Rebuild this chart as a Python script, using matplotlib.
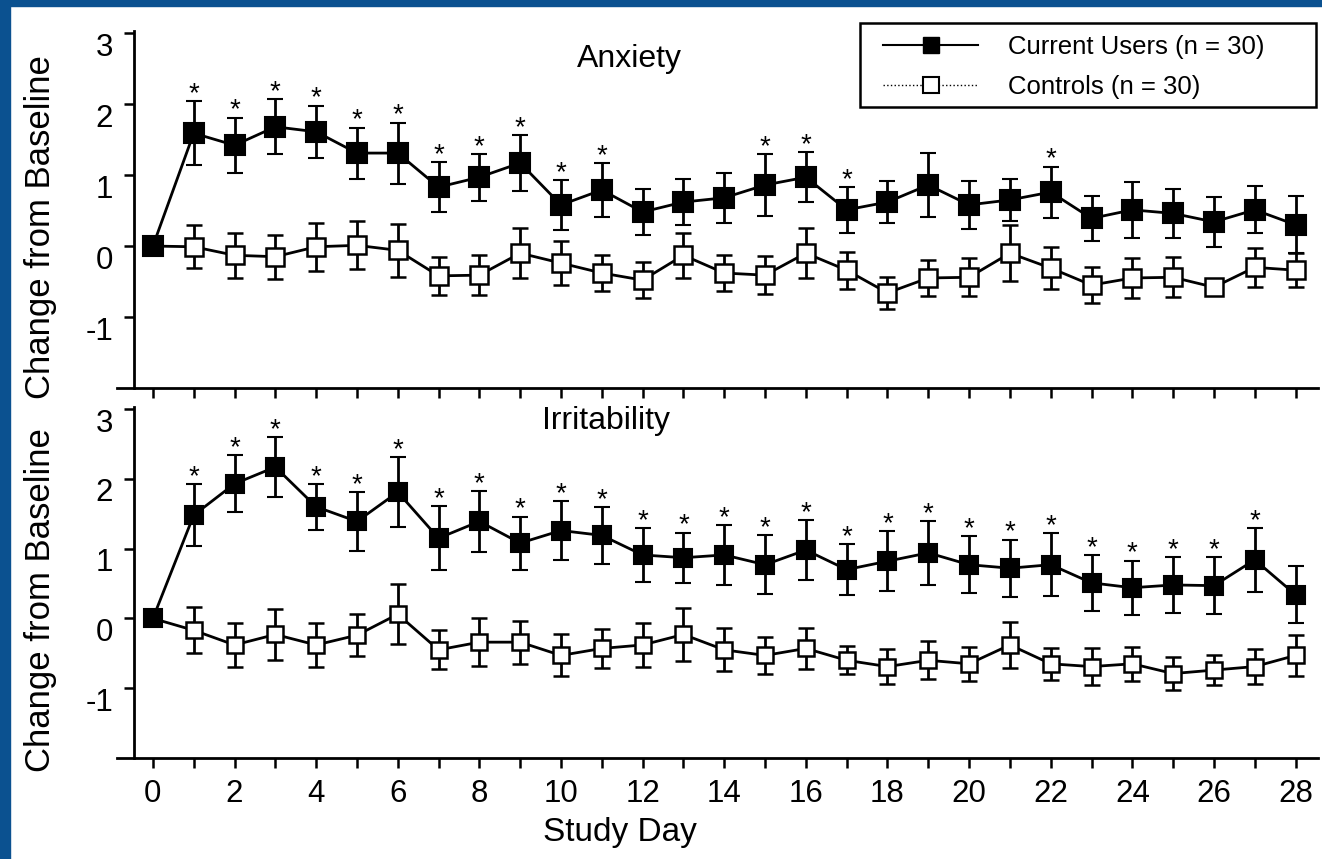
import matplotlib
matplotlib.use("Agg")
import matplotlib.pyplot as plt
from matplotlib.lines import Line2D
from matplotlib.patches import Rectangle
from matplotlib.transforms import ScaledTranslation

plt.rcParams['font.family'] = ['Liberation Sans', 'DejaVu Sans']
plt.rcParams['axes.unicode_minus'] = False

days = list(range(29))

# Anxiety: change from baseline (mean, SE)
anx_users = [0, 1.59, 1.42, 1.68, 1.61, 1.31, 1.31, 0.83, 0.97, 1.17, 0.58, 0.79, 0.48, 0.62, 0.68,
             0.86, 0.97, 0.51, 0.62, 0.86, 0.58, 0.65, 0.76, 0.39, 0.51, 0.46, 0.34, 0.51, 0.30]
anx_users_se = [0, 0.45, 0.39, 0.39, 0.37, 0.36, 0.43, 0.35, 0.33, 0.39, 0.35, 0.38, 0.33, 0.33, 0.35,
                0.44, 0.35, 0.32, 0.30, 0.45, 0.34, 0.30, 0.36, 0.32, 0.39, 0.35, 0.35, 0.33, 0.40]
anx_ctrl = [0, -0.01, -0.13, -0.15, -0.01, 0.01, -0.06, -0.42, -0.41, -0.10, -0.24, -0.38, -0.48, -0.13, -0.38,
            -0.41, -0.10, -0.34, -0.66, -0.45, -0.44, -0.10, -0.31, -0.55, -0.45, -0.44, -0.58, -0.30, -0.34]
anx_ctrl_se = [0, 0.30, 0.32, 0.31, 0.34, 0.34, 0.37, 0.27, 0.28, 0.35, 0.31, 0.26, 0.25, 0.32, 0.25,
               0.27, 0.35, 0.26, 0.23, 0.25, 0.27, 0.39, 0.29, 0.25, 0.28, 0.28, 0.05, 0.27, 0.24]
anx_signif = [1, 2, 3, 4, 5, 6, 7, 8, 9, 10, 11, 15, 16, 17, 22]

# Irritability
irr_users = [0, 1.48, 1.93, 2.17, 1.60, 1.39, 1.81, 1.15, 1.39, 1.08, 1.26, 1.19, 0.91, 0.87, 0.91,
             0.77, 0.98, 0.70, 0.82, 0.94, 0.77, 0.72, 0.77, 0.51, 0.44, 0.48, 0.47, 0.84, 0.34]
irr_users_se = [0, 0.44, 0.41, 0.43, 0.33, 0.42, 0.50, 0.46, 0.44, 0.38, 0.42, 0.41, 0.39, 0.36, 0.43,
                0.42, 0.43, 0.36, 0.43, 0.46, 0.41, 0.41, 0.45, 0.40, 0.39, 0.40, 0.41, 0.46, 0.41]
irr_ctrl = [0, -0.17, -0.38, -0.23, -0.38, -0.24, 0.06, -0.45, -0.34, -0.34, -0.53, -0.43, -0.38, -0.23, -0.45,
            -0.53, -0.43, -0.60, -0.69, -0.60, -0.65, -0.38, -0.65, -0.69, -0.65, -0.79, -0.74, -0.69, -0.53]
irr_ctrl_se = [0, 0.33, 0.32, 0.37, 0.31, 0.30, 0.43, 0.28, 0.34, 0.31, 0.30, 0.28, 0.32, 0.38, 0.31,
               0.27, 0.30, 0.20, 0.25, 0.27, 0.24, 0.33, 0.23, 0.26, 0.24, 0.24, 0.21, 0.25, 0.29]
irr_signif = list(range(1, 28))

W, H = 1322, 859
fig = plt.figure(figsize=(W / 100, H / 100), dpi=100)
fig.patch.set_facecolor('white')

# blue frame of the slide
fig.patches.append(Rectangle((0, 0), 10 / W, 1, transform=fig.transFigure, color='#0b5190', zorder=0))
fig.patches.append(Rectangle((0, 1 - 6 / H), 1, 6 / H, transform=fig.transFigure, color='#0b5190', zorder=0))

left, right = 117 / W, 1318 / W
ax1 = fig.add_axes([left, 1 - 388 / H, right - left, (388 - 31) / H])
ax2 = fig.add_axes([left, 1 - 758 / H, right - left, (758 - 407) / H])


def draw_panel(ax, users, users_se, ctrl, ctrl_se, signif, title, tx, ty, ms):
    ax.errorbar(days, ctrl, yerr=ctrl_se, fmt='s-', color='black', mfc='white', mec='black',
                ms=ms - 1.5, mew=1.8, lw=2, elinewidth=2, capsize=5.5, capthick=2, zorder=2)
    ax.errorbar(days, users, yerr=users_se, fmt='s-', color='black', mfc='black', mec='black',
                ms=ms, mew=1.5, lw=2, elinewidth=2, capsize=5.5, capthick=2, zorder=3)
    for d in signif:
        ax.text(d, users[d] + users_se[d] + 0.0, '*', ha='center', va='baseline', fontsize=20)

    ax.set_xlim(-0.88, 28.55)
    ax.set_ylim(-2, 3.03)
    for s in ['top', 'right']:
        ax.spines[s].set_visible(False)
    ax.spines['left'].set_position(('data', -0.47))
    ax.spines['left'].set_linewidth(2)
    ax.spines['bottom'].set_linewidth(2)
    ax.set_xticks(days)
    ax.set_yticks([-1, 0, 1, 2, 3])
    ax.tick_params(axis='both', direction='out', length=7, width=1.8, labelsize=22.5, pad=8)
    ax.tick_params(axis='x', pad=8)
    for lab in ax.get_yticklabels():
        lab.set_transform(lab.get_transform() + ScaledTranslation(0, -0.11, fig.dpi_scale_trans))
    ax.set_ylabel('Change from Baseline', fontsize=25)
    ax.yaxis.set_label_coords(-0.05, 0.45)
    ax.text(tx, ty, title, transform=ax.transAxes, ha='center', va='center', fontsize=23)


draw_panel(ax1, anx_users, anx_users_se, anx_ctrl, anx_ctrl_se, anx_signif, 'Anxiety', 0.427, 0.921, 14)
ax1.set_xticklabels([])

draw_panel(ax2, irr_users, irr_users_se, irr_ctrl, irr_ctrl_se, irr_signif, 'Irritability', 0.407, 0.96, 13)
ax2.set_xticklabels([str(d) if d % 2 == 0 else '' for d in days])

fig.text(620 / W, 1 - 833 / H, 'Study Day', ha='center', va='center', fontsize=24)

# legend box drawn separately so the entries can sit with the wide left margin
fig.patches.append(Rectangle((860 / W, 1 - 107 / H), 456 / W, 84 / H, transform=fig.transFigure,
                             facecolor='white', edgecolor='black', lw=1.8, zorder=5))
handles = [Line2D([], [], color='black', lw=1.5, marker='s', ms=12, mfc='black', mec='black'),
           Line2D([], [], color='black', lw=1, ls=':', marker='s', ms=12, mfc='white', mec='black', mew=1.5)]
leg = fig.legend(handles, ['Current Users (n = 30)', 'Controls (n = 30)'],
                 bbox_to_anchor=(878 / W, 1 - 30 / H), bbox_transform=fig.transFigure,
                 loc='upper left', fontsize=18.5, frameon=False, handlelength=3.7, handletextpad=1.15,
                 labelspacing=0.6, borderpad=0.2, borderaxespad=0)
leg.set_zorder(6)

fig.savefig('out.png', dpi=100)
